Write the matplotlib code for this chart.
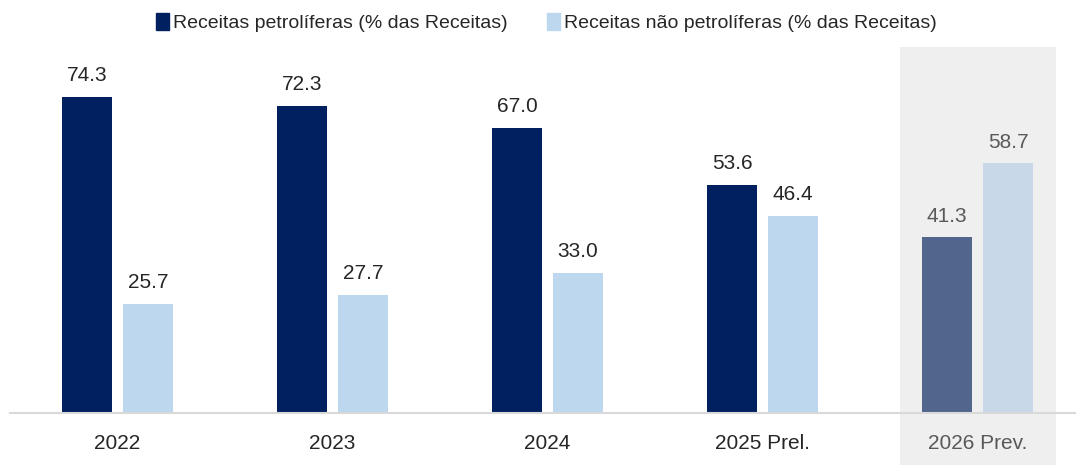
import matplotlib.pyplot as plt
import numpy as np
from matplotlib.patches import Rectangle
from matplotlib.transforms import blended_transform_factory

plt.rcParams["font.family"] = ["Liberation Sans Narrow", "Liberation Sans", "DejaVu Sans"]

# ---------- data ----------
categories = ["2022", "2023", "2024", "2025 Prel.", "2026 Prev."]
oil = [74.3, 72.3, 67.0, 53.6, 41.3]
non_oil = [25.7, 27.7, 33.0, 46.4, 58.7]
series_names = ["Receitas petrolíferas (% das Receitas)",
                "Receitas não petrolíferas (% das Receitas)"]
forecast_idx = 4

# ---------- style ----------
dark = "#002060"
light = "#bdd7ee"
dark_fc = "#52658c"
light_fc = "#c8d8e8"
band_color = "#efefef"
text_color = "#262626"
grey_text = "#595959"

fig = plt.figure(figsize=(10.76, 4.65), dpi=100)
ax = fig.add_axes([10 / 1076, 52 / 465, 1066 / 1076, 366 / 465])

x = np.arange(len(categories))
w = 0.2326
off = 0.1419

dark_cols = [dark_fc if i == forecast_idx else dark for i in x]
light_cols = [light_fc if i == forecast_idx else light for i in x]

# shaded forecast band, from top of axes down to the figure bottom
tr = blended_transform_factory(ax.transData, fig.transFigure)
band = Rectangle((forecast_idx - 0.3628, 0), 0.7256, (465 - 47) / 465,
                 transform=tr, facecolor=band_color, edgecolor="none",
                 zorder=0, clip_on=False)
ax.add_patch(band)

ax.bar(x - off, oil, width=w, color=dark_cols, zorder=3)
ax.bar(x + off, non_oil, width=w, color=light_cols, zorder=3)

for i in x:
    c = grey_text if i == forecast_idx else text_color
    ax.text(i - off, oil[i] + 5.0, f"{oil[i]:.1f}", ha="center", va="center",
            fontsize=15, color=c, zorder=5)
    ax.text(i + off, non_oil[i] + 5.0, f"{non_oil[i]:.1f}", ha="center", va="center",
            fontsize=15, color=c, zorder=5)

ax.set_xlim(-0.5, 4.458)
ax.set_ylim(0, 86.06)
ax.set_yticks([])
ax.set_xticks(x)
ax.set_xticklabels(categories, fontsize=15, color=text_color)
ax.get_xticklabels()[forecast_idx].set_color(grey_text)
ax.tick_params(axis="x", length=0, pad=15)
for s in ["top", "right", "left"]:
    ax.spines[s].set_visible(False)
ax.spines["bottom"].set_color("#d9d9d9")
ax.spines["bottom"].set_linewidth(1.5)
ax.spines["bottom"].set_zorder(4)
ax.patch.set_alpha(0.0)

handles = [Rectangle((0, 0), 1, 1, color=dark), Rectangle((0, 0), 1, 1, color=light)]
fig.legend(handles, series_names, loc="upper center", bbox_to_anchor=(0.508, 1.01),
           ncol=2, frameon=False, fontsize=14, handlelength=0.65, handleheight=1.0,
           handletextpad=0.25, columnspacing=2.0, labelcolor=text_color)

fig.savefig("out.png", dpi=100)
